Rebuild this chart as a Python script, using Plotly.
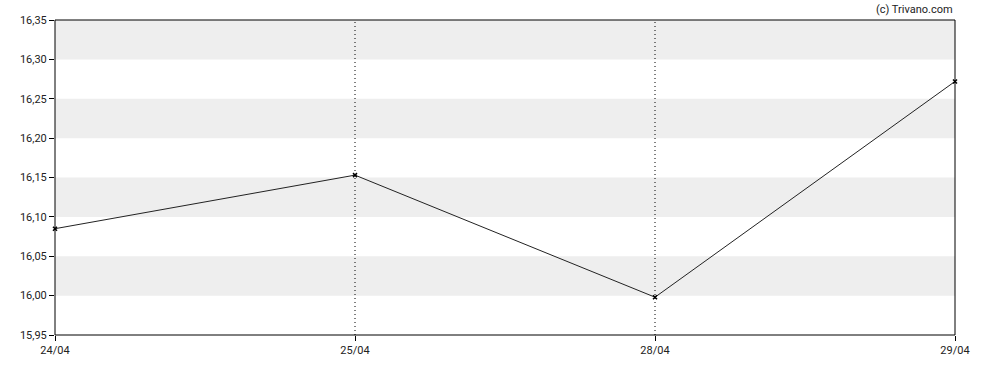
import plotly.graph_objects as go

dates = ["24/04", "25/04", "28/04", "29/04"]
prices = [16.085, 16.153, 15.998, 16.272]
y_min, y_max, y_step = 15.95, 16.35, 0.05

x_idx = list(range(len(dates)))

fig = go.Figure()
fig.add_trace(go.Scatter(
    x=x_idx, y=prices, mode="lines+markers",
    line=dict(color="#222222", width=1),
    marker=dict(symbol="x-thin", size=4, color="#000000",
                line=dict(width=1.5, color="#000000")),
    hoverinfo="skip", showlegend=False, cliponaxis=False,
))

shapes = []
n_bands = int(round((y_max - y_min) / y_step))
for i in range(n_bands):
    lo = y_min + i * y_step
    if i % 2 == 1:
        shapes.append(dict(type="rect", xref="paper", yref="y", x0=0, x1=1,
                           y0=lo, y1=lo + y_step, fillcolor="#eeeeee",
                           line=dict(width=0), layer="below"))
for xi in x_idx[1:-1]:
    shapes.append(dict(type="line", xref="x", yref="paper", x0=xi, x1=xi,
                       y0=0, y1=1, line=dict(color="#000000", width=1, dash="1px,3px"),
                       layer="above"))
shapes.append(dict(type="rect", xref="paper", yref="paper", x0=0, x1=1, y0=0, y1=1,
                   line=dict(color="#000000", width=1), layer="above"))

tickvals = [round(y_min + i * y_step, 2) for i in range(n_bands + 1)]

fig.update_layout(
    width=988, height=370,
    margin=dict(l=55, r=33, t=20, b=35),
    plot_bgcolor="#ffffff", paper_bgcolor="#ffffff",
    separators=",.",
    font=dict(family="Roboto", size=11, color="#222222"),
    shapes=shapes,
    xaxis=dict(range=[0, len(dates) - 1], tickvals=x_idx, ticktext=dates,
               showgrid=False, zeroline=False, ticks="outside", ticklen=5,
               tickcolor="#000000", showline=False),
    yaxis=dict(range=[y_min, y_max], tickvals=tickvals, tickformat=".2f",
               showgrid=False, zeroline=False, ticks="outside", ticklen=5,
               tickcolor="#000000", showline=False),
    annotations=[dict(text="(c) Trivano.com", xref="paper", yref="paper",
                      x=1, y=1, xanchor="right", yanchor="bottom", yshift=2,
                      showarrow=False, font=dict(family="Roboto", size=11, color="#222222"))],
)

fig.write_html("out.html")
